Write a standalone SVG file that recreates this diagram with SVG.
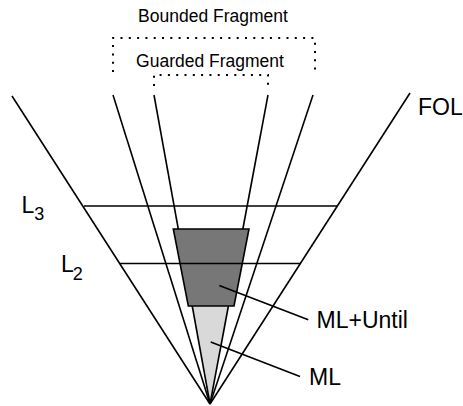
<svg xmlns="http://www.w3.org/2000/svg" width="463" height="406" viewBox="0 0 463 406">
  <style>
    .ln { stroke: #000; stroke-width: 1.6; fill: none; stroke-linecap: butt; }
    .dot { stroke: #000; stroke-width: 2; fill: none; stroke-dasharray: 2 6.3; }
    .lbl { font-family: "Liberation Sans", Arial, Helvetica, sans-serif; fill: #000; }
    .big { font-size: 23px; }
    .small { font-size: 17.5px; }
    .sub { font-size: 18px; }
  </style>
  <rect width="463" height="406" fill="#fff"/>

  <!-- ML region: light wedge bounded by the guarded-fragment rays -->
  <g id="ml-region">
    <polygon points="192.2,306 228.4,306 210,404" fill="#d9d9d9"/>
  </g>

  <g id="connectors">
    <!-- rays from the apex -->
    <line class="ln" x1="210" y1="404" x2="12" y2="96"/>
    <line class="ln" x1="210" y1="404" x2="113" y2="95"/>
    <line class="ln" x1="210" y1="404" x2="154" y2="95"/>
    <line class="ln" x1="210" y1="404" x2="268" y2="95"/>
    <line class="ln" x1="210" y1="404" x2="313" y2="95"/>
    <line class="ln" x1="210" y1="404" x2="410" y2="93"/>
  </g>

  <!-- ML+Until region -->
  <g id="ml-until-region">
    <polygon points="173.3,229 249,229 234,306 188.3,306" fill="#777" stroke="#000" stroke-width="1.6"/>
  </g>

  <g id="levels">
    <line class="ln" x1="84" y1="206" x2="337" y2="206"/>
    <line class="ln" x1="120" y1="263.5" x2="300.5" y2="263.5"/>
  </g>

  <g id="leaders">
    <line class="ln" x1="219.3" y1="285.5" x2="308.3" y2="319.8"/>
    <line class="ln" x1="210.7" y1="342" x2="300" y2="376.5"/>
  </g>

  <g id="bounded-fragment">
    <polyline class="dot" points="113,72 113,38 315,38 315,72"/>
    <text class="lbl small" x="213" y="22" text-anchor="middle">Bounded Fragment</text>
  </g>

  <g id="guarded-fragment">
    <polyline class="dot" points="154,86 154,75 268,75 268,86"/>
    <text class="lbl small" x="210" y="67" text-anchor="middle">Guarded Fragment</text>
  </g>

  <g id="fol">
    <text class="lbl big" x="418" y="115">FOL</text>
  </g>
  <g id="l3">
    <text class="lbl big" x="21.5" y="213.3">L</text>
    <text class="lbl sub" x="34.3" y="220">3</text>
  </g>
  <g id="l2">
    <text class="lbl big" x="61" y="272.3">L</text>
    <text class="lbl sub" x="72.7" y="280">2</text>
  </g>
  <g id="ml-until-label">
    <text class="lbl big" x="316.5" y="327.7">ML+Until</text>
  </g>
  <g id="ml-label">
    <text class="lbl big" x="309" y="385">ML</text>
  </g>
</svg>
